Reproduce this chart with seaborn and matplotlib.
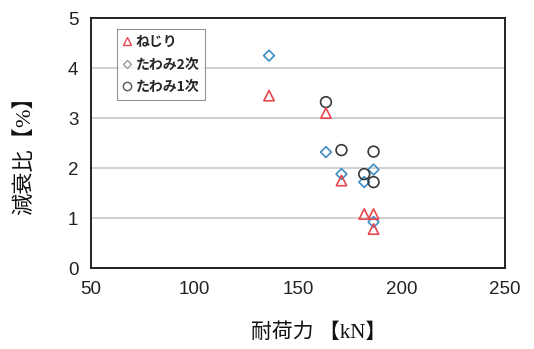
import matplotlib
matplotlib.use("Agg")
import matplotlib.pyplot as plt
from matplotlib.lines import Line2D
import seaborn as sns
import pandas as pd

# 耐荷力 [kN] と 減衰比 [%]
torsion_x = [136, 163.5, 171, 182, 186.5, 186.5]
torsion_y = [3.45, 3.10, 1.75, 1.08, 1.08, 0.78]
bend2_x = [136, 163.5, 171, 182, 186.5, 186.5]
bend2_y = [4.25, 2.32, 1.88, 1.72, 1.97, 0.92]
bend1_x = [163.5, 171, 182, 186.5, 186.5]
bend1_y = [3.32, 2.36, 1.88, 2.33, 1.72]

series_names = ["ねじり", "たわみ2次", "たわみ1次"]
x_ticks = [50, 100, 150, 200, 250]
y_ticks = [0, 1, 2, 3, 4, 5]

df = pd.concat([
    pd.DataFrame({"x": torsion_x, "y": torsion_y, "mode": series_names[0]}),
    pd.DataFrame({"x": bend2_x, "y": bend2_y, "mode": series_names[1]}),
    pd.DataFrame({"x": bend1_x, "y": bend1_y, "mode": series_names[2]}),
], ignore_index=True)

sns.set_style("white")
plt.rcParams["font.family"] = ["Liberation Sans", "Noto Sans CJK JP"]

fig = plt.figure(figsize=(5.34, 3.49), dpi=100)
ax = fig.add_axes([0.1704, 0.232, 0.7753, 0.716])

colors = {series_names[0]: "#e8464e", series_names[1]: "#3c8cc6", series_names[2]: "#3a3a3a"}
markers = {series_names[0]: "^", series_names[1]: "D", series_names[2]: "o"}
sizes = {series_names[0]: 55, series_names[1]: 30, series_names[2]: 60}

for name in [series_names[1], series_names[2], series_names[0]]:
    sub = df[df["mode"] == name]
    sns.scatterplot(data=sub, x="x", y="y", ax=ax, marker=markers[name],
                    s=sizes[name], facecolors="none", edgecolor=colors[name],
                    linewidth=1.2, legend=False, zorder=3)

ax.set_xlim(50, 250)
ax.set_ylim(0, 5)
ax.set_xticks(x_ticks)
ax.set_yticks(y_ticks)
ax.yaxis.grid(True, color="#c8c8c8", linewidth=1.2)
ax.set_axisbelow(True)
for sp in ax.spines.values():
    sp.set_color("#222222")
    sp.set_linewidth(1.4)
ax.tick_params(axis="both", which="major", length=4, width=0.8, color="#bbbbbb",
               labelsize=13.5, labelcolor="#222222", pad=5)
ax.set_xlabel("")
ax.set_ylabel("")

# 軸ラベル（kN・% は明朝系、和文はゴシック）
label_fonts = ["Liberation Serif", "Noto Sans CJK JP"]
fig.text(319 / 534, 1 - 333 / 349, "耐荷力 【kN】", fontsize=15, family=label_fonts,
         ha="center", va="center", color="#111111")
fig.text(25 / 534, 1 - 150 / 349, "減衰比【%】", fontsize=16, family=label_fonts,
         ha="center", va="center", rotation=90, color="#111111")

handles = [
    Line2D([], [], linestyle="none", marker="^", markersize=6, markerfacecolor="none",
           markeredgecolor=colors[series_names[0]], markeredgewidth=1.0),
    Line2D([], [], linestyle="none", marker="D", markersize=4, markerfacecolor="none",
           markeredgecolor="#999999", markeredgewidth=1.0),
    Line2D([], [], linestyle="none", marker="o", markersize=6, markerfacecolor="none",
           markeredgecolor="#555555", markeredgewidth=1.0),
]
leg = ax.legend(handles, series_names, loc="upper left", bbox_to_anchor=(0.045, 0.985),
                frameon=True, fancybox=False, handlelength=0.6, handletextpad=0.3,
                borderpad=0.45, labelspacing=0.6,
                prop={"family": "Noto Sans CJK JP", "size": 10, "weight": "bold"})
leg.get_frame().set_edgecolor("#777777")
leg.get_frame().set_linewidth(0.8)

fig.savefig("out.png", dpi=100)
